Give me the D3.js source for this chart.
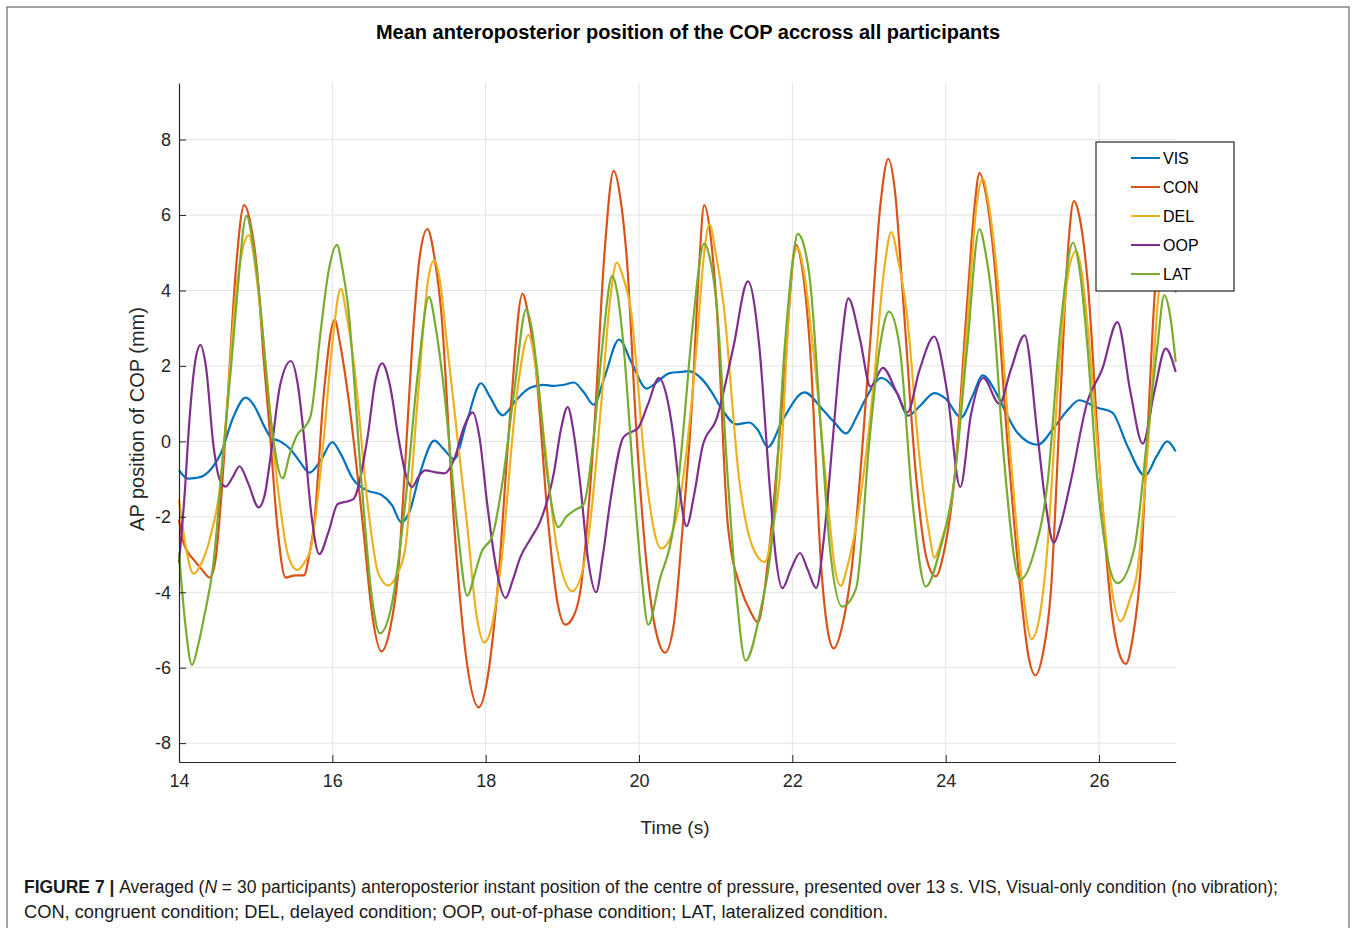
<!DOCTYPE html>
<html>
<head>
<meta charset="utf-8">
<script src="https://cdn.jsdelivr.net/npm/d3@7"></script>
<style>
body{margin:0;background:#fff;}
svg{display:block;font-family:"Liberation Sans",Arial,sans-serif;}
</style>
</head>
<body>
<div id="chart"></div>
<script>
// time (s), AP position (mm)
var vis=[[14.00,-0.76],[14.12,-0.99],[14.22,-0.97],[14.32,-0.91],[14.45,-0.65],[14.55,-0.3],[14.70,0.6],[14.87,1.16],[14.98,0.95],[15.10,0.45],[15.20,0.1],[15.32,0.0],[15.45,-0.2],[15.58,-0.55],[15.70,-0.83],[15.85,-0.5],[16.00,-0.02],[16.10,-0.3],[16.27,-1.0],[16.45,-1.3],[16.64,-1.42],[16.78,-1.7],[16.90,-2.15],[17.00,-1.9],[17.15,-0.8],[17.33,0.02],[17.45,-0.2],[17.59,-0.47],[17.75,0.5],[17.94,1.54],[18.05,1.2],[18.22,0.69],[18.40,1.1],[18.58,1.42],[18.75,1.5],[18.89,1.47],[19.02,1.5],[19.15,1.56],[19.28,1.3],[19.41,0.97],[19.55,1.7],[19.74,2.70],[19.90,2.1],[20.10,1.40],[20.25,1.6],[20.40,1.81],[20.55,1.84],[20.64,1.86],[20.83,1.63],[20.95,1.3],[21.07,0.89],[21.27,0.45],[21.44,0.5],[21.55,0.3],[21.68,-0.15],[21.88,0.59],[22.16,1.30],[22.40,0.83],[22.55,0.5],[22.70,0.21],[22.85,0.7],[22.97,1.18],[23.16,1.68],[23.36,1.30],[23.51,0.68],[23.67,0.95],[23.85,1.28],[24.00,1.13],[24.20,0.63],[24.35,1.2],[24.48,1.75],[24.67,1.24],[24.80,0.7],[24.93,0.24],[25.20,-0.09],[25.41,0.36],[25.60,0.85],[25.74,1.09],[25.98,0.89],[26.17,0.77],[26.37,-0.12],[26.60,-0.91],[26.75,-0.4],[26.89,0.0],[27.00,-0.27]];

var con=[[14.00,-2.07],[14.06,-2.69],[14.21,-3.18],[14.30,-3.4],[14.40,-3.61],[14.47,-3.22],[14.55,-1.5],[14.64,1.3],[14.74,4.5],[14.85,6.26],[14.93,5.8],[15.02,4.5],[15.10,2.3],[15.19,0.12],[15.28,-2.2],[15.39,-3.61],[15.52,-3.55],[15.63,-3.55],[15.70,-3.0],[15.76,-2.25],[15.89,1.3],[16.03,3.22],[16.10,2.6],[16.20,1.3],[16.40,-2.25],[16.52,-4.6],[16.64,-5.57],[16.75,-5.0],[16.86,-3.44],[16.95,-0.6],[17.04,2.49],[17.14,4.9],[17.24,5.63],[17.33,4.9],[17.42,3.44],[17.59,-2.25],[17.75,-5.8],[17.91,-7.05],[18.03,-6.2],[18.15,-4.03],[18.32,0.71],[18.48,3.91],[18.56,3.3],[18.65,2.01],[18.82,-2.25],[18.93,-4.2],[19.04,-4.86],[19.13,-4.7],[19.23,-4.03],[19.41,0.12],[19.55,5.0],[19.67,7.17],[19.76,6.4],[19.84,4.86],[19.97,0.12],[20.14,-4.03],[20.24,-5.2],[20.34,-5.60],[20.45,-4.9],[20.57,-2.25],[20.70,1.3],[20.78,4.5],[20.85,6.26],[20.93,5.5],[21.01,3.67],[21.16,-2.25],[21.33,-3.91],[21.45,-4.5],[21.55,-4.80],[21.62,-4.2],[21.70,-2.84],[21.88,1.3],[22.05,5.21],[22.12,4.7],[22.23,2.49],[22.38,-3.44],[22.46,-5.0],[22.54,-5.49],[22.65,-4.9],[22.77,-3.44],[23.01,2.49],[23.15,6.3],[23.25,7.49],[23.34,6.6],[23.44,3.91],[23.62,-1.07],[23.75,-3.1],[23.87,-3.58],[23.97,-3.0],[24.11,-1.07],[24.28,3.67],[24.38,6.3],[24.44,7.11],[24.52,6.6],[24.63,4.86],[24.80,0.12],[24.98,-4.03],[25.08,-5.7],[25.17,-6.20],[25.27,-5.6],[25.37,-4.03],[25.50,1.3],[25.60,5.2],[25.67,6.37],[25.75,5.9],[25.85,4.27],[26.02,-1.07],[26.17,-4.62],[26.26,-5.6],[26.35,-5.90],[26.44,-5.2],[26.54,-3.44],[26.64,0.5],[26.73,4.0],[26.87,5.8],[27.00,3.95]];

var del=[[14.00,-1.54],[14.08,-2.7],[14.19,-3.51],[14.30,-3.2],[14.41,-2.52],[14.53,-1.28],[14.63,1.0],[14.73,3.67],[14.82,5.0],[14.91,5.47],[14.99,4.7],[15.08,3.08],[15.28,-1.07],[15.42,-3.0],[15.54,-3.41],[15.64,-3.2],[15.72,-2.84],[15.89,0.12],[16.00,2.6],[16.11,4.05],[16.19,3.3],[16.29,1.9],[16.46,-1.66],[16.60,-3.5],[16.73,-3.82],[16.85,-3.5],[16.95,-2.84],[17.12,1.3],[17.25,4.3],[17.33,4.80],[17.40,4.3],[17.50,2.49],[17.76,-2.25],[17.88,-4.6],[17.98,-5.33],[18.08,-4.9],[18.19,-3.44],[18.41,1.3],[18.56,2.82],[18.65,2.0],[18.76,0.12],[18.93,-2.84],[19.13,-3.97],[19.32,-2.84],[19.52,1.3],[19.62,3.7],[19.71,4.74],[19.80,4.3],[19.88,3.67],[20.10,-1.07],[20.20,-2.4],[20.29,-2.84],[20.40,-2.6],[20.57,-1.07],[20.75,2.49],[20.84,4.8],[20.92,5.75],[21.00,5.0],[21.10,3.67],[21.31,-1.07],[21.49,-2.84],[21.64,-3.2],[21.74,-2.4],[21.83,-1.07],[22.01,4.86],[22.07,5.12],[22.15,4.5],[22.27,2.49],[22.44,-1.07],[22.55,-3.3],[22.63,-3.83],[22.72,-3.3],[22.83,-2.25],[23.05,1.3],[23.20,4.6],[23.29,5.55],[23.38,4.8],[23.49,3.44],[23.66,-0.47],[23.79,-2.5],[23.85,-3.08],[23.95,-2.6],[24.11,-1.07],[24.28,3.08],[24.40,6.2],[24.48,6.97],[24.56,6.3],[24.65,4.86],[24.85,-0.47],[24.98,-3.44],[25.12,-5.24],[25.22,-4.7],[25.30,-3.44],[25.50,2.49],[25.61,4.6],[25.70,5.04],[25.78,4.4],[25.85,3.08],[26.02,-1.07],[26.15,-3.7],[26.28,-4.77],[26.40,-4.2],[26.50,-3.44],[26.66,0.5],[26.78,4.0],[26.92,5.6],[27.00,5.0]];

var oop=[[14.00,-3.22],[14.07,-1.5],[14.14,0.67],[14.21,2.1],[14.28,2.55],[14.35,2.0],[14.45,-0.12],[14.53,-1.01],[14.61,-1.2],[14.70,-0.95],[14.79,-0.66],[14.90,-1.1],[15.04,-1.75],[15.12,-1.4],[15.19,-0.47],[15.32,1.5],[15.46,2.13],[15.55,1.5],[15.63,0.12],[15.73,-2.0],[15.83,-2.99],[15.95,-2.4],[16.07,-1.66],[16.18,-1.6],[16.27,-1.54],[16.46,0.12],[16.56,1.6],[16.65,2.07],[16.75,1.5],[16.86,0.12],[16.96,-0.9],[17.04,-1.21],[17.12,-0.95],[17.21,-0.77],[17.35,-0.82],[17.46,-0.85],[17.59,-0.47],[17.72,0.4],[17.83,0.77],[17.92,0.1],[18.02,-1.66],[18.15,-3.5],[18.26,-4.15],[18.35,-3.7],[18.45,-3.08],[18.58,-2.6],[18.71,-2.13],[18.89,-0.83],[18.98,0.3],[19.07,0.91],[19.15,0.2],[19.23,-1.07],[19.34,-3.2],[19.44,-4.0],[19.53,-3.0],[19.62,-1.66],[19.80,0.12],[19.99,0.36],[20.12,1.0],[20.26,1.68],[20.36,1.2],[20.45,0.12],[20.53,-1.3],[20.62,-2.25],[20.72,-1.4],[20.83,-0.12],[21.01,0.59],[21.23,2.49],[21.42,4.24],[21.57,2.49],[21.70,-1.07],[21.78,-3.0],[21.87,-3.89],[21.98,-3.4],[22.10,-2.96],[22.20,-3.4],[22.31,-3.89],[22.42,-2.4],[22.53,0.12],[22.64,2.6],[22.73,3.79],[22.88,2.73],[23.02,1.45],[23.18,1.95],[23.36,1.3],[23.50,0.77],[23.66,1.9],[23.85,2.78],[24.02,1.3],[24.19,-1.21],[24.33,0.71],[24.49,1.68],[24.70,1.0],[24.85,1.9],[25.03,2.81],[25.20,0.12],[25.30,-1.6],[25.41,-2.69],[25.50,-2.2],[25.63,-1.07],[25.85,1.07],[26.04,1.9],[26.24,3.16],[26.41,1.3],[26.57,-0.06],[26.72,1.3],[26.87,2.46],[27.00,1.84]];

var lat=[[14.00,-2.96],[14.08,-4.8],[14.17,-5.93],[14.25,-5.4],[14.32,-4.73],[14.45,-3.22],[14.58,-0.21],[14.68,2.0],[14.75,3.67],[14.88,5.98],[14.96,5.3],[15.04,4.03],[15.19,0.71],[15.35,-0.98],[15.45,-0.3],[15.55,0.2],[15.65,0.4],[15.72,0.7],[15.85,2.96],[15.95,4.5],[16.06,5.21],[16.13,4.6],[16.20,3.67],[16.38,-1.07],[16.51,-4.03],[16.62,-5.09],[16.77,-4.38],[16.95,-1.66],[17.12,1.9],[17.26,3.83],[17.35,3.0],[17.46,1.3],[17.63,-2.25],[17.76,-4.09],[17.86,-3.5],[17.94,-2.96],[18.09,-2.49],[18.22,-1.07],[18.37,1.3],[18.53,3.5],[18.60,3.0],[18.67,1.9],[18.80,-0.83],[18.95,-2.27],[19.05,-2.0],[19.15,-1.84],[19.28,-1.66],[19.41,0.12],[19.52,2.49],[19.65,4.38],[19.72,3.9],[19.80,2.49],[19.93,-1.07],[20.03,-3.5],[20.12,-4.86],[20.27,-3.67],[20.45,-2.25],[20.57,0.12],[20.70,3.08],[20.85,5.24],[20.93,4.8],[21.01,3.67],[21.16,-1.07],[21.27,-4.03],[21.39,-5.81],[21.57,-4.62],[21.75,-2.25],[21.90,2.49],[22.00,4.7],[22.07,5.50],[22.15,5.2],[22.23,4.27],[22.38,0.12],[22.49,-2.84],[22.65,-4.38],[22.83,-3.91],[23.01,0.12],[23.14,2.49],[23.26,3.44],[23.40,2.49],[23.57,-1.66],[23.74,-3.85],[23.93,-2.84],[24.11,-1.07],[24.28,2.49],[24.44,5.63],[24.52,5.0],[24.61,3.67],[24.76,-0.47],[24.97,-3.67],[25.15,-2.96],[25.33,-1.07],[25.50,3.08],[25.66,5.27],[25.75,4.5],[25.85,2.49],[25.98,-1.07],[26.10,-3.0],[26.24,-3.76],[26.46,-2.84],[26.63,0.12],[26.76,2.49],[26.85,3.87],[26.93,3.3],[27.00,2.1]];

var names=["VIS","CON","DEL","OOP","LAT"];
var colors=["#0072BD","#D95319","#EDB120","#7E2F8E","#77AC30"];
var xTicks=[14,16,18,20,22,24,26];
var yTicks=[-8,-6,-4,-2,0,2,4,6,8];

var W=1356,H=928;
var pLeft=179,pRight=1175.7,pTop=83,pBottom=762;

var svg=d3.select("#chart").append("svg")
.attr("width",W)
.attr("height",H);

// outer frame
svg.append("rect")
.attr("x",7).attr("y",7)
.attr("width",1342).attr("height",940)
.attr("fill","none")
.attr("stroke","#666")
.attr("stroke-width",1.2);

var x=d3.scaleLinear().domain([14,27]).range([pLeft,pRight]);
var y=d3.scaleLinear().domain([-8.5,9.5]).range([pBottom,pTop]);

// grid
svg.append("g").selectAll("line").data(xTicks.slice(1)).join("line")
.attr("x1",d=>x(d)).attr("x2",d=>x(d))
.attr("y1",pTop).attr("y2",pBottom)
.attr("stroke","#e3e3e3").attr("stroke-width",1);
svg.append("g").selectAll("line").data(yTicks).join("line")
.attr("x1",pLeft).attr("x2",pRight)
.attr("y1",d=>y(d)).attr("y2",d=>y(d))
.attr("stroke","#e3e3e3").attr("stroke-width",1);

// lines
var line=d3.line()
.x(d=>x(d[0]))
.y(d=>y(d[1]))
.curve(d3.curveMonotoneX);

var series=[vis,con,del,oop,lat];
series.forEach(function(s,i){
	svg.append("path")
	.attr("d",line(s))
	.attr("fill","none")
	.attr("stroke",colors[i])
	.attr("stroke-width",2.2)
	.attr("stroke-linejoin","round");
});

// axes (plain hyphen for negatives, like the original)
var fmt=function(d){return String(d);};
var xAxis=svg.append("g")
.attr("transform","translate(0,"+pBottom+")")
.call(d3.axisBottom(x).tickValues(xTicks).tickFormat(fmt).tickSizeInner(-7).tickSizeOuter(0).tickPadding(12));
var yAxis=svg.append("g")
.attr("transform","translate("+pLeft+",0)")
.call(d3.axisLeft(y).tickValues(yTicks).tickFormat(fmt).tickSizeInner(-7).tickSizeOuter(0).tickPadding(8));

[xAxis,yAxis].forEach(function(a){
	a.attr("font-family","Liberation Sans, Arial, sans-serif").attr("font-size",18);
	a.selectAll("path").attr("stroke","#262626").attr("stroke-width",1.2);
	a.selectAll("line").attr("stroke","#262626");
	a.selectAll("text").attr("fill","#262626");
});

// legend
var lg=svg.append("g");
lg.append("rect")
.attr("x",1096).attr("y",142)
.attr("width",138).attr("height",149)
.attr("fill","#fff")
.attr("stroke","#262626")
.attr("stroke-width",1.2);
names.forEach(function(n,i){
	var yy=158+i*29;
	lg.append("line")
	.attr("x1",1131).attr("x2",1160)
	.attr("y1",yy).attr("y2",yy)
	.attr("stroke",colors[i]).attr("stroke-width",2);
	lg.append("text")
	.attr("x",1163).attr("y",yy+6)
	.attr("font-size",16)
	.attr("fill","#000")
	.text(n);
});

// title and labels
svg.append("text")
.attr("x",688).attr("y",39)
.attr("text-anchor","middle")
.attr("font-size",20)
.attr("font-weight","bold")
.attr("fill","#000")
.text("Mean anteroposterior position of the COP accross all participants");

svg.append("text")
.attr("x",675).attr("y",834)
.attr("text-anchor","middle")
.attr("font-size",19)
.attr("fill","#262626")
.text("Time (s)");

svg.append("text")
.attr("transform","translate(144,419) rotate(-90)")
.attr("text-anchor","middle")
.attr("font-size",20)
.attr("fill","#262626")
.text("AP position of COP (mm)");

// caption
var cap1=svg.append("text")
.attr("x",24).attr("y",893)
.attr("font-size",18)
.attr("fill","#1a1a1a")
.attr("textLength",1254)
.attr("lengthAdjust","spacingAndGlyphs");
cap1.append("tspan").attr("font-weight","bold").text("FIGURE 7 | ");
cap1.append("tspan").text("Averaged (");
cap1.append("tspan").attr("font-style","italic").text("N");
cap1.append("tspan").text(" = 30 participants) anteroposterior instant position of the centre of pressure, presented over 13 s. VIS, Visual-only condition (no vibration);");

svg.append("text")
.attr("x",24).attr("y",918)
.attr("font-size",18)
.attr("fill","#1a1a1a")
.attr("textLength",864)
.attr("lengthAdjust","spacingAndGlyphs")
.text("CON, congruent condition; DEL, delayed condition; OOP, out-of-phase condition; LAT, lateralized condition.");
</script>
</body>
</html>
